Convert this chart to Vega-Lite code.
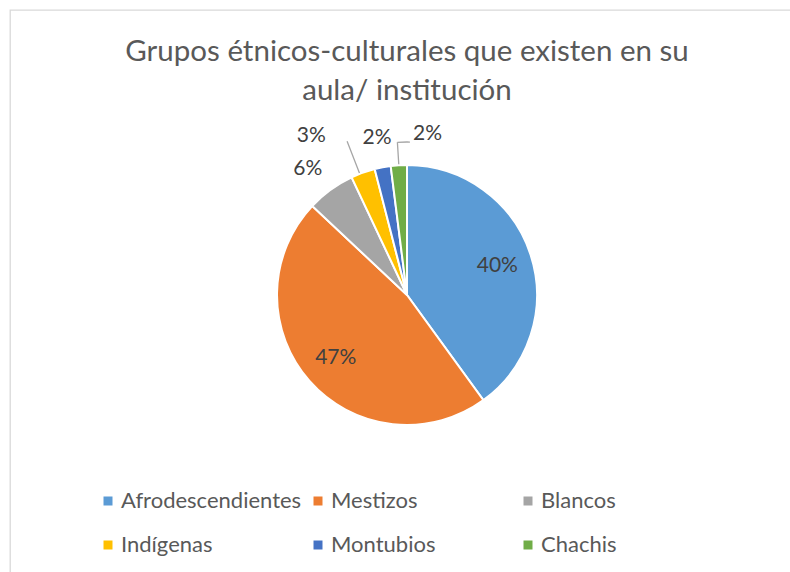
{
  "$schema": "https://vega.github.io/schema/vega-lite/v6.json",
  "autosize": {"type": "none"},
  "padding": {"left": 10, "top": 10, "right": 0, "bottom": 0},
  "width": 794,
  "height": 570,
  "background": "white",
  "view": {"stroke": "#d9d9d9", "strokeWidth": 1.3},
  "title": {
    "text": ["Grupos étnicos-culturales que existen en su", "aula/ institución"],
    "font": "Lato",
    "fontSize": 29.5,
    "fontWeight": "normal",
    "color": "#595959",
    "anchor": "middle",
    "frame": "group",
    "orient": "top",
    "baseline": "alphabetic",
    "lineHeight": 39,
    "offset": -119
  },
  "data": {
    "values": [
      {"grupo": "Afrodescendientes", "orden": 1, "valor": 0.40},
      {"grupo": "Mestizos", "orden": 2, "valor": 0.47},
      {"grupo": "Blancos", "orden": 3, "valor": 0.06},
      {"grupo": "Indígenas", "orden": 4, "valor": 0.03},
      {"grupo": "Montubios", "orden": 5, "valor": 0.02},
      {"grupo": "Chachis", "orden": 6, "valor": 0.02}
    ]
  },
  "encoding": {
    "theta": {"field": "valor", "type": "quantitative", "stack": true},
    "order": {"field": "orden", "type": "quantitative"},
    "color": {
      "field": "grupo",
      "type": "nominal",
      "scale": {
        "domain": ["Afrodescendientes", "Mestizos", "Blancos", "Indígenas", "Montubios", "Chachis"],
        "range": ["#5B9BD5", "#ED7D31", "#A5A5A5", "#FFC000", "#4472C4", "#70AD47"]
      },
      "legend": {
        "title": null,
        "orient": "none",
        "legendX": 87,
        "legendY": 480,
        "direction": "horizontal",
        "columns": 3,
        "gridAlign": "all",
        "columnPadding": 5,
        "rowPadding": 22,
        "padding": 0,
        "symbolType": "square",
        "symbolSize": 81,
        "symbolStrokeWidth": 0,
        "labelFont": "Lato",
        "labelFontSize": 22,
        "labelColor": "#595959",
        "labelOffset": 2,
        "labelLimit": 400
      }
    }
  },
  "layer": [
    {
      "mark": {"type": "arc", "outerRadius": 130, "stroke": "white", "strokeWidth": 2}
    },
    {
      "mark": {"type": "arc", "filled": false, "innerRadius": 131, "outerRadius": 165, "thetaOffset": -0.026, "padAngle": 1, "strokeWidth": 1.3},
      "encoding": {
        "color": {"value": "#A6A6A6"},
        "opacity": {"condition": {"test": "datum.grupo === 'Indígenas'", "value": 1}, "value": 0}
      }
    },
    {
      "mark": {"type": "arc", "filled": false, "innerRadius": 131, "outerRadius": 153, "padAngle": 1, "strokeWidth": 1.3},
      "encoding": {
        "color": {"value": "#A6A6A6"},
        "opacity": {"condition": {"test": "datum.grupo === 'Chachis'", "value": 1}, "value": 0}
      }
    },
    {
      "mark": {"type": "arc", "filled": false, "innerRadius": 153, "outerRadius": 153, "thetaOffset": 0.041, "padAngle": 0.0309, "strokeWidth": 1.3},
      "encoding": {
        "color": {"value": "#A6A6A6"},
        "opacity": {"condition": {"test": "datum.grupo === 'Chachis'", "value": 1}, "value": 0}
      }
    },
    {
      "mark": {"type": "text", "radius": 95, "font": "Lato", "fontSize": 21, "align": "center", "baseline": "middle"},
      "encoding": {
        "text": {"field": "valor", "type": "quantitative", "format": ".0%"},
        "color": {"value": "#404040"},
        "opacity": {"condition": {"test": "datum.grupo === 'Afrodescendientes' || datum.grupo === 'Mestizos'", "value": 1}, "value": 0}
      }
    },
    {
      "mark": {"type": "text", "radius": 160, "thetaOffset": -0.04, "font": "Lato", "fontSize": 21, "align": "center", "baseline": "middle"},
      "encoding": {
        "text": {"field": "valor", "type": "quantitative", "format": ".0%"},
        "color": {"value": "#404040"},
        "opacity": {"condition": {"test": "datum.grupo === 'Blancos'", "value": 1}, "value": 0}
      }
    },
    {
      "mark": {"type": "text", "radius": 160, "font": "Lato", "fontSize": 21, "align": "center", "baseline": "middle"},
      "encoding": {
        "text": {"field": "valor", "type": "quantitative", "format": ".0%"},
        "color": {"value": "#404040"},
        "opacity": {"condition": {"test": "datum.grupo === 'Montubios'", "value": 1}, "value": 0}
      }
    },
    {
      "mark": {"type": "text", "radius": 186, "thetaOffset": -0.195, "font": "Lato", "fontSize": 21, "align": "center", "baseline": "middle"},
      "encoding": {
        "text": {"field": "valor", "type": "quantitative", "format": ".0%"},
        "color": {"value": "#404040"},
        "opacity": {"condition": {"test": "datum.grupo === 'Indígenas'", "value": 1}, "value": 0}
      }
    },
    {
      "mark": {"type": "text", "radius": 162, "thetaOffset": 0.19, "font": "Lato", "fontSize": 21, "align": "center", "baseline": "middle"},
      "encoding": {
        "text": {"field": "valor", "type": "quantitative", "format": ".0%"},
        "color": {"value": "#404040"},
        "opacity": {"condition": {"test": "datum.grupo === 'Chachis'", "value": 1}, "value": 0}
      }
    }
  ]
}
